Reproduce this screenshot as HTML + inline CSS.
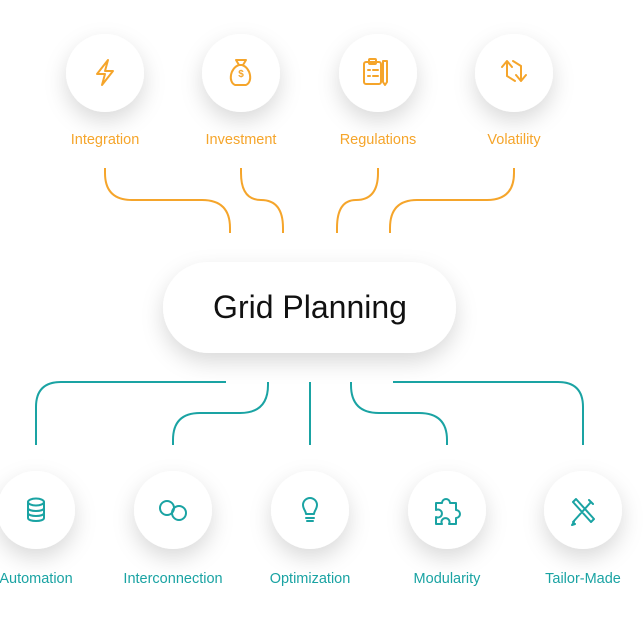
<!DOCTYPE html>
<html><head><meta charset="utf-8"><style>
html,body{margin:0;padding:0;background:#fff;}
body{width:644px;height:639px;overflow:hidden;}
text{font-family:"Liberation Sans",sans-serif;}
</style></head><body>
<svg width="644" height="639" viewBox="0 0 644 639" xmlns="http://www.w3.org/2000/svg">
<defs>
<filter id="sh" x="-50%" y="-50%" width="200%" height="200%">
<feDropShadow dx="0" dy="9" stdDeviation="11" flood-color="#000" flood-opacity="0.15"/>
</filter>
</defs>
<rect width="644" height="639" fill="#fff"/>
<g filter="url(#sh)" fill="#fff">
<circle cx="105" cy="73" r="39"/><circle cx="241" cy="73" r="39"/>
<circle cx="378" cy="73" r="39"/><circle cx="514" cy="73" r="39"/>
<rect x="163" y="262" width="293" height="91" rx="45.5"/>
<circle cx="36" cy="510" r="39"/><circle cx="173" cy="510" r="39"/>
<circle cx="310" cy="510" r="39"/><circle cx="447" cy="510" r="39"/>
<circle cx="583" cy="510" r="39"/>
</g>
<g fill="none" stroke="#f5a52b" stroke-width="2" stroke-linejoin="round" stroke-linecap="round">
<path d="M108 60 L97 74 L105 74 L102 85 L113 71 L105 71 Z"/>
<path d="M236 60 h10 l-3 5 h-4 Z M239 65 c-9 3 -11 17 -4 20 h11 c7 -3 5 -17 -4 -20"/>
<rect x="364" y="62" width="17" height="22" rx="2"/><rect x="369" y="59" width="7" height="5" rx="1"/>
<path d="M368 70h2 M373 70h5 M368 76h2 M373 76h5 M387 61v21 l-2 3 l-2-3 v-21 Z"/>
<path d="M507 76 v-14 M502 67 l5-6 l5 6 M521 66 v14 M516 75 l5 6 l5-6 M507 76 l8 5 M521 66 l-8-5"/>
</g>
<text x="241" y="77" font-size="10" fill="#f5a52b" text-anchor="middle" font-weight="bold">$</text>
<g font-size="14.5" fill="#f5a52b" text-anchor="middle">
<text x="105" y="144">Integration</text><text x="241" y="144">Investment</text>
<text x="378" y="144">Regulations</text><text x="514" y="144">Volatility</text>
</g>
<g fill="none" stroke="#f5a52b" stroke-width="2">
<path d="M105 168 v5 q0 27 27 27 h70 q28 0 28 28 v5"/>
<path d="M241 168 v5 q0 27 20 27 q22 0 22 28 v5"/>
<path d="M378 168 v5 q0 27 -22 27 q-19 0 -19 28 v5"/>
<path d="M514 168 v5 q0 27 -27 27 h-70 q-27 0 -27 28 v5"/>
</g>
<text x="310" y="318" font-size="32" fill="#111" text-anchor="middle">Grid Planning</text>
<g fill="none" stroke="#1aa3a3" stroke-width="2">
<path d="M226 382 h-165 q-25 0 -25 25 v38"/>
<path d="M268 382 v3 q0 28 -28 28 h-40 q-27 0 -27 27 v5"/>
<path d="M310 382 v63"/>
<path d="M351 382 v3 q0 28 28 28 h40 q28 0 28 27 v5"/>
<path d="M393 382 h165 q25 0 25 25 v38"/>
</g>
<g fill="none" stroke="#1aa3a3" stroke-width="2" stroke-linejoin="round" stroke-linecap="round">
<ellipse cx="36" cy="502" rx="8" ry="3.5"/>
<path d="M28 502 v16 c0 4 16 4 16 0 v-16 M28 508 c0 4 16 4 16 0 M28 513 c0 4 16 4 16 0"/>
<circle cx="167" cy="508" r="7"/><circle cx="179" cy="513" r="7"/>
<path d="M303 505 a7 7 0 1 1 14 0 c0 4 -3 6 -3 9 h-8 c0-3 -3-5 -3-9 M306 518 h8 M307 521 h6"/>
<path d="M436 503 h6 a4 4 0 1 1 8 0 h6 v7 a4 4 0 1 1 0 8 v6 h-7 a4 4 0 1 0 -7 0 h-6 v-7 a4 4 0 1 0 0 -7 Z"/>
<path d="M573 502 l18 20 M591 502 l-18 20 M573 502 l3 -3 l18 20 l-3 3 M589 500 l4 4 M574 522 l-2 3 l3 -1"/>
</g>
<g font-size="14.5" fill="#1aa3a3" text-anchor="middle">
<text x="36" y="583">Automation</text><text x="173" y="583">Interconnection</text>
<text x="310" y="583">Optimization</text><text x="447" y="583">Modularity</text>
<text x="583" y="583">Tailor-Made</text>
</g>
</svg>
</body></html>
